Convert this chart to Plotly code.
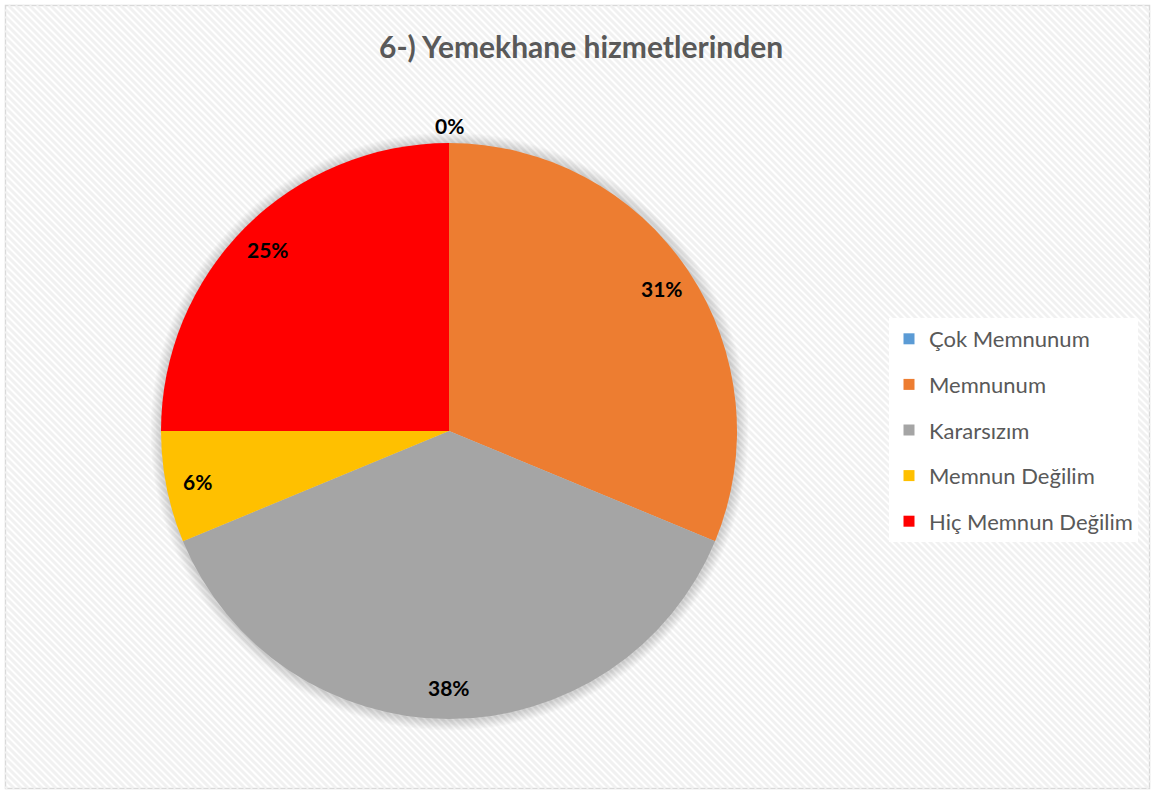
import math
import plotly.graph_objects as go

categories = ["Çok Memnunum", "Memnunum", "Kararsızım", "Memnun Değilim", "Hiç Memnun Değilim"]
counts = [0, 5, 6, 1, 4]
colors = ["#5B9BD5", "#ED7D31", "#A5A5A5", "#FFC000", "#FF0000"]
title_text = "6-) Yemekhane hizmetlerinden"

W, H = 1153, 790
cx, cy, R = 449, 431, 288  # pie centre / radius in px
BX0, BX1, BY0, BY1 = 5.5, 1149.5, 5.5, 788.5  # chart border in px


def px_x(v):
    return v / W


def px_y(v):
    return 1 - v / H


fig = go.Figure()
fig.add_trace(go.Pie(
    labels=categories, values=counts, sort=False, direction="clockwise", rotation=0,
    marker=dict(colors=colors, line=dict(width=0)),
    textinfo="none", showlegend=False, hoverinfo="label+percent",
    domain=dict(x=[px_x(cx - R), px_x(cx + R)], y=[px_y(cy + R), px_y(cy - R)]),
))

# legend entries (one group each so the spacing can be set)
for lab, col in zip(categories, colors):
    fig.add_trace(go.Scatter(
        x=[None], y=[None], mode="markers", name=lab, legendgroup=lab,
        marker=dict(symbol="square", size=11, color=col),
        showlegend=True,
    ))

# data labels computed from the values
total = sum(counts)
annotations = []
cum = 0
for v in counts:
    frac = v / total
    mid = (cum + frac / 2) * 2 * math.pi
    cum += frac
    rf = 1.06 if v == 0 else 0.89
    x = cx + rf * R * math.sin(mid)
    y = cy - rf * R * math.cos(mid)
    annotations.append(dict(
        x=px_x(x), y=px_y(y), xref="paper", yref="paper", showarrow=False,
        text=f"<b>{round(frac * 100)}%</b>",
        font=dict(family="Lato", size=21, color="#000000"),
        xanchor="center", yanchor="middle",
    ))
annotations.append(dict(
    x=px_x(581), y=px_y(46), xref="paper", yref="paper", showarrow=False,
    text=f"<b>{title_text}</b>", font=dict(family="Lato", size=30, color="#595959"),
    xanchor="center", yanchor="middle",
))

# background: border + diagonal stripes
shapes = [dict(type="rect", xref="paper", yref="paper",
               x0=px_x(BX0), x1=px_x(BX1), y0=px_y(BY1), y1=px_y(BY0),
               line=dict(color="#d9d9d9", width=1.5), fillcolor="#ffffff", layer="below")]
step = 7.0
c = -(BX1 - BX0)
while c < (BY1 - BY0):
    xs = BX0 + max(0.0, -c)
    xe = min(BX1, BX0 + (BY1 - BY0) - c)
    if xe > xs:
        ys = BY0 + (xs - BX0) + c
        ye = BY0 + (xe - BX0) + c
        shapes.append(dict(type="line", xref="paper", yref="paper",
                           x0=px_x(xs), x1=px_x(xe), y0=px_y(ys), y1=px_y(ye),
                           line=dict(color="#f1f1f1", width=3), layer="below"))
    c += step

# soft shadow around the pie
for k in range(1, 9):
    rr = R + 1.3 * k
    shapes.append(dict(type="circle", xref="paper", yref="paper",
                       x0=px_x(cx - rr), x1=px_x(cx + rr + 1),
                       y0=px_y(cy + rr + 1), y1=px_y(cy - rr),
                       line=dict(width=0), fillcolor="rgba(0,0,0,0.018)", layer="below"))

fig.update_layout(
    width=W, height=H,
    margin=dict(l=0, r=0, t=0, b=0),
    paper_bgcolor="#ffffff", plot_bgcolor="rgba(0,0,0,0)",
    xaxis=dict(visible=False), yaxis=dict(visible=False),
    annotations=annotations,
    shapes=shapes,
    legend=dict(
        x=px_x(889), y=px_y(318), xanchor="left", yanchor="top",
        bgcolor="#ffffff", font=dict(family="Lato", size=22, color="#595959"),
        tracegroupgap=14, itemwidth=30,
    ),
)

fig.write_html("out.html", config={"displayModeBar": False},
               post_script="document.body.style.margin='0px';document.body.style.overflow='hidden';")
